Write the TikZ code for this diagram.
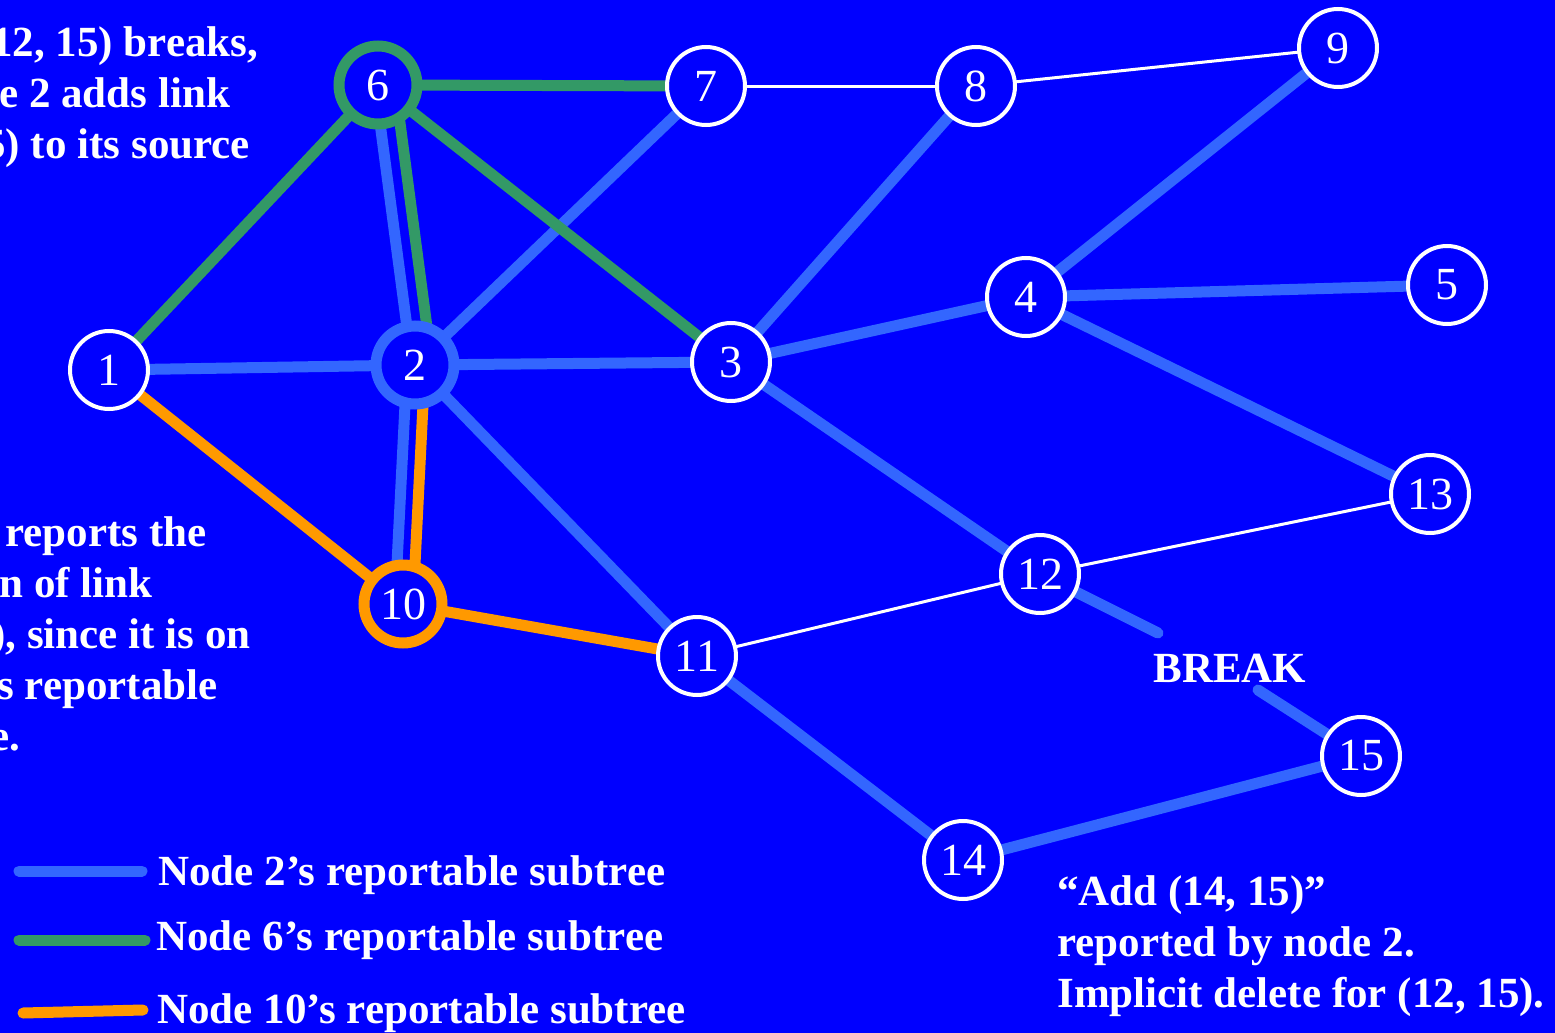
\documentclass[tikz,border=0pt]{standalone}
\usepackage{fontspec}
\setmainfont{Liberation Serif}
\usetikzlibrary{positioning}
\definecolor{slideblue}{RGB}{0,0,255}
\definecolor{treeblue}{RGB}{51,102,255}
\definecolor{treegreen}{RGB}{51,153,102}
\definecolor{treeorange}{RGB}{255,153,0}
\pgfdeclarelayer{background}
\pgfsetlayers{background,main}

\begin{document}
\begin{tikzpicture}[x=0.5pt, y=-0.5pt,
	router/.style={circle, draw=white, line width=2pt, fill=slideblue, minimum size=39pt, inner sep=0pt, text=white, font=\fontsize{23}{23}\selectfont},
	root/.style={router, line width=5.5pt, draw=#1},
	link/.style={line width=1.5pt, white},
	sub/.style={line width=5.5pt, #1},
	caption/.style={text=white, font=\fontsize{21.5}{25.5}\selectfont\bfseries, inner sep=0pt, align=left}]
	\clip (0,0) rectangle (1555,1033);

	\node[router] (n1) at (109,370) {1};
	\node[root=treeblue] (n2) at (415,365) {2};
	\node[router] (n3) at (731,362) {3};
	\node[router] (n4) at (1026,297) {4};
	\node[router] (n5) at (1447,285) {5};
	\node[root=treegreen] (n6) at (378,85) {6};
	\node[router] (n7) at (706,86) {7};
	\node[router] (n8) at (976,86) {8};
	\node[router] (n9) at (1338,48) {9};
	\node[root=treeorange] (n10) at (403,604) {10};
	\node[router] (n11) at (697,656) {11};
	\node[router] (n12) at (1040,574) {12};
	\node[router] (n13) at (1430,494) {13};
	\node[router] (n14) at (963,860) {14};
	\node[router] (n15) at (1361,756) {15};

	\coordinate (brkA) at (1158,633);
	\coordinate (brkB) at (1258,690);
	\node[caption, anchor=base west] (break) at (1153,682) {BREAK};

	\begin{pgfonlayer}{background}
	\fill[slideblue] (0,0) rectangle (1555,1033);
	\draw[link] (n7.center) -- (n8.center);
	\draw[link] (n8.center) -- (n9.center);
	\draw[link] (n12.center) -- (n13.center);
	\draw[link] (n11.center) -- (n12.center);
	\draw[sub=treeblue] (n1.center) -- (n2.center);
	\draw[sub=treeblue] (n2.center) -- (n3.center);
	\draw[sub=treeblue] (n2.center) -- (n7.center);
	\draw[sub=treeblue] (n2.center) -- (n11.center);
	\draw[sub=treeblue] ([xshift=-1.5pt]n6.center) -- ([xshift=-1.5pt]n2.center);
	\draw[sub=treeblue] ([xshift=-4pt]n2.center) -- ([xshift=-4pt]n10.center);
	\draw[sub=treeblue] (n3.center) -- (n8.center);
	\draw[sub=treeblue] (n3.center) -- (n4.center);
	\draw[sub=treeblue] (n3.center) -- (n12.center);
	\draw[sub=treeblue] (n4.center) -- (n9.center);
	\draw[sub=treeblue] (n4.center) -- (n5.center);
	\draw[sub=treeblue] (n4.center) -- (n13.center);
	\draw[sub=treeblue] (n11.center) -- (n14.center);
	\draw[sub=treeblue] (n14.center) -- (n15.center);
	\draw[sub=treeblue, line cap=round] (n12.center) -- (brkA);
	\draw[sub=treeblue, line cap=round] (brkB) -- (n15.center);
	\draw[sub=treegreen] (n6.center) -- (n1.center);
	\draw[sub=treegreen] (n6.center) -- (n7.center);
	\draw[sub=treegreen] (n6.center) -- (n3.center);
	\draw[sub=treegreen] ([xshift=8.5pt]n6.center) -- ([xshift=8.5pt]n2.center);
	\draw[sub=treeorange] ([xshift=5pt]n2.center) -- ([xshift=5pt]n10.center);
	\draw[sub=treeorange] (n1.center) -- (n10.center);
	\draw[sub=treeorange] (n10.center) -- (n11.center);
	\end{pgfonlayer}

	\node[caption, anchor=base west] (breaks) at (-16,158) {\hspace*{3.5pt}12, 15) breaks,\\\hspace*{7.5pt}e 2 adds link\\5) to its source};
	\node[caption, anchor=base west] (reports) at (-10,750) {\hspace*{7.5pt}reports the\\\hspace*{4.5pt}n of link\\\hspace*{0.5pt}), since it is on\\\hspace*{3.5pt}s reportable\\e.};
	\node[caption, anchor=base west] (added) at (1057,1007) {“Add (14, 15)”\\reported by node 2.\\Implicit delete for (12, 15).};

	\coordinate (key2a) at (19,871);
	\coordinate (key2b) at (142,871);
	\coordinate (key6a) at (19,940);
	\coordinate (key6b) at (145,940);
	\coordinate (key10a) at (23,1013);
	\coordinate (key10b) at (143,1010);
	\draw[sub=treeblue, line cap=round] (key2a) -- (key2b);
	\draw[sub=treegreen, line cap=round] (key6a) -- (key6b);
	\draw[sub=treeorange, line cap=round] (key10a) -- (key10b);
	\node[caption, anchor=base west] (tree2) at (158,885) {Node 2’s reportable subtree};
	\node[caption, anchor=base west] (tree6) at (156,950) {Node 6’s reportable subtree};
	\node[caption, anchor=base west] (tree10) at (157,1023) {Node 10’s reportable subtree};
\end{tikzpicture}
\end{document}
